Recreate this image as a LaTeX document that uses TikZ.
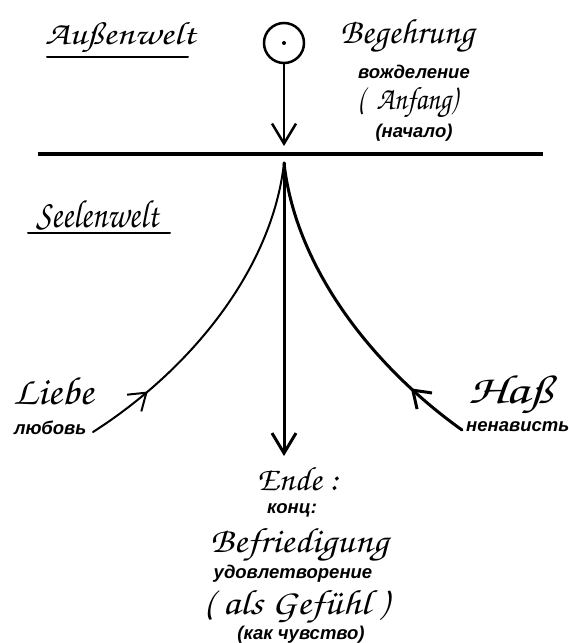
\documentclass[tikz,border=0pt]{standalone}
\usepackage{fontspec}
\usepackage{graphicx}
\usetikzlibrary{arrows.meta,decorations.markings}
\newfontfamily\rufont{Liberation Sans}
\newcommand{\hwfont}{\fontencoding{T1}\fontfamily{pzc}\fontseries{mb}\fontshape{it}\fontsize{30}{32}\selectfont}
\newcommand{\hw}[3]{\resizebox{#1pt}{#2pt}{\hwfont #3}}
\tikzset{
  hand/.style={inner sep=0pt, anchor=base west},
  ru/.style={inner sep=0pt, anchor=base, font=\rufont\bfseries\itshape\fontsize{18.5}{20}\selectfont},
  >={Straight Barb[length=20pt,width=24pt]},
  midarrow/.style={postaction={decorate}, decoration={markings,
      mark=at position #1 with {\arrow{Straight Barb[length=16pt,width=22pt]}}}},
}
\begin{document}
\begin{tikzpicture}[x=1pt,y=-1pt,line cap=round]
\useasboundingbox (0,0) rectangle (569,643);
% coordinates
\coordinate (hl) at (38,154);
\coordinate (hr) at (543,154);
\coordinate (ttip) at (284,146);
\coordinate (apex) at (284,163);
\coordinate (vtip) at (284,456);
\coordinate (lend) at (93,432);
\coordinate (rend) at (462,430);
\coordinate (u1a) at (47,57);
\coordinate (u1b) at (188,57);
\coordinate (u2a) at (28,233);
\coordinate (u2b) at (170,233);
% circle with dot
\node[circle,draw,line width=2.5pt,minimum size=40pt,inner sep=0pt] (circ) at (284,43) {};
\node[circle,fill,minimum size=4pt,inner sep=0pt] (dot) at (circ.center) {};
\draw[line width=2.5pt,->] (circ.south) -- (ttip);
% separator
\draw[line width=3.5pt,line cap=butt] (hl) -- (hr);
% main arrow
\draw[line width=3pt,->] (apex) -- (vtip);
% curves
\draw[line width=2pt,midarrow=0.2] (lend) .. controls (190,370) and (272,270) .. (apex);
\draw[line width=3pt,midarrow=0.2] (rend) .. controls (375,368) and (296,270) .. (apex);
% underlines
\draw[line width=2pt] (u1a) -- (u1b);
\draw[line width=2pt] (u2a) -- (u2b);
% texts
\node[hand] (auss) at (45,44) {\hw{150}{23}{Au\char255 enwelt}};
\node[hand] (beg) at (340,43) {\hw{134}{25}{Begehrung}};
\node[ru] (voz) at (414,78) {вожделение};
\node[hand] (anf) at (357,109) {\hw{100}{23}{(\ \ Anfang)}};
\node[ru] (nach) at (414,137) {(начало)};
\node[hand] (seel) at (36,227) {\hw{122}{28}{Seelenwelt}};
\node[hand] (lieb) at (13,404) {\hw{80}{28}{Liebe}};
\node[ru,anchor=base west] (lju) at (14,434) {любовь};
\node[hand] (hass) at (468,403) {\hw{84}{29}{Ha\char255}};
\node[ru,anchor=base west] (nen) at (466,431) {ненависть};
\node[hand] (ende) at (257,490) {\hw{81}{24}{Ende :}};
\node[ru] (konz) at (292,513) {конц:};
\node[hand] (befr) at (210,552) {\hw{178}{25}{Befriedigung}};
\node[ru] (udov) at (293,578) {удовлетворение};
\node[hand] (gef) at (203,614) {\hw{185}{25}{( als Gef\char252 hl )}};
\node[ru] (kak) at (301,639) {(как чувство)};
\end{tikzpicture}
\end{document}
